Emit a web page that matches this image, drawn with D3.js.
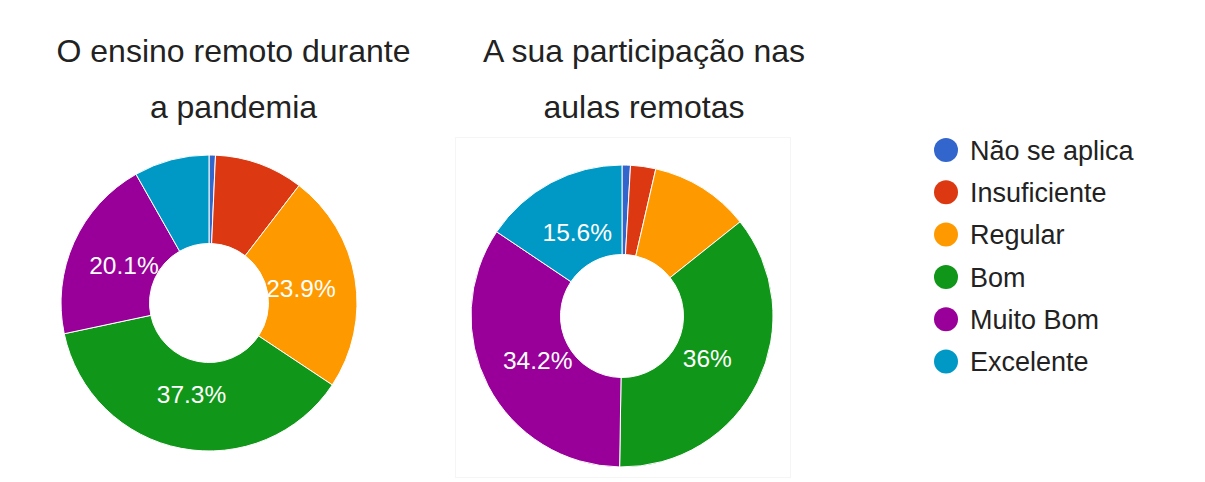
<!DOCTYPE html>
<html>
<head>
<meta charset="utf-8">
<script src="https://cdn.jsdelivr.net/npm/d3@7"></script>
<style>
  html, body { margin: 0; padding: 0; background: #fff; }
  svg { display: block; }
  text { font-family: "Liberation Sans", Arial, sans-serif; }
</style>
</head>
<body>
<svg id="chart" width="1205" height="482"></svg>
<script>
const categories = ["Não se aplica", "Insuficiente", "Regular", "Bom", "Muito Bom", "Excelente"];
const colors = ["#3366cc", "#dc3912", "#ff9900", "#109618", "#990099", "#0099c6"];
const ensinoRemoto = [0.7, 9.7, 23.9, 37.3, 20.1, 8.2];
const participacao = [0.9, 2.7, 10.7, 36, 34.2, 15.6];
const titles = [
  ["O ensino remoto durante", "a pandemia"],
  ["A sua participação nas", "aulas remotas"]
];

const svg = d3.select("#chart");
const color = d3.scaleOrdinal().domain(categories).range(colors);

// faint frame around the second chart
svg.append("rect")
  .attr("x", 455.5).attr("y", 137.5).attr("width", 335).attr("height", 340)
  .attr("fill", "none").attr("stroke", "#f5f5f5").attr("stroke-width", 1);

const charts = [
  { values: ensinoRemoto, title: titles[0], cx: 209, cy: 303, R: 148, r: 59.5, tx: 233.5 },
  { values: participacao, title: titles[1], cx: 622, cy: 316, R: 151, r: 61.5, tx: 644 }
];

const pie = d3.pie().sort(null).value(d => d.v);

charts.forEach(c => {
  const data = categories.map((k, i) => ({ k, v: c.values[i] }));
  const arcs = pie(data);
  const arc = d3.arc().innerRadius(c.r).outerRadius(c.R);
  const lr = c.R * 0.63;
  const labelArc = d3.arc().innerRadius(lr).outerRadius(lr);
  const g = svg.append("g").attr("transform", `translate(${c.cx},${c.cy})`);
  g.selectAll("path").data(arcs).join("path")
    .attr("d", arc)
    .attr("fill", d => color(d.data.k))
    .attr("stroke", "#fff")
    .attr("stroke-width", 1);
  g.selectAll("text.lbl").data(arcs.filter(d => d.data.v >= 15)).join("text")
    .attr("class", "lbl")
    .attr("transform", d => `translate(${labelArc.centroid(d)})`)
    .attr("text-anchor", "middle")
    .attr("dy", "0.36em")
    .attr("fill", "#ffffff")
    .attr("font-size", 24.5)
    .text(d => d.data.v + "%");

  const t = svg.append("text")
    .attr("text-anchor", "middle")
    .attr("font-size", 32)
    .attr("fill", "#222");
  t.append("tspan").attr("x", c.tx).attr("y", 61.5).text(c.title[0]);
  t.append("tspan").attr("x", c.tx).attr("y", 118).text(c.title[1]);
});

// legend
const legend = svg.append("g").attr("transform", "translate(946,150)");
const rows = legend.selectAll("g").data(categories).join("g")
  .attr("transform", (d, i) => `translate(0,${i * 42.3})`);
rows.append("circle").attr("r", 12).attr("fill", d => color(d));
rows.append("text")
  .attr("x", 24)
  .attr("dy", "0.36em")
  .attr("font-size", 27)
  .attr("fill", "#222")
  .text(d => d);
</script>
</body>
</html>
